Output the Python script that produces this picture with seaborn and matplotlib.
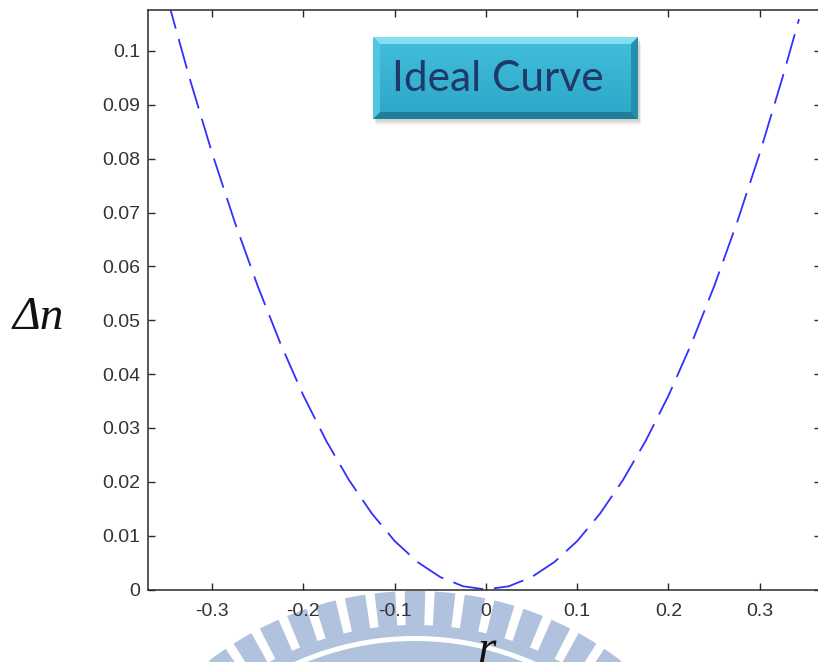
import numpy as np
import pandas as pd
import matplotlib
matplotlib.use("Agg")
import matplotlib.pyplot as plt
import matplotlib.transforms as mtransforms
from matplotlib.patches import Polygon, Rectangle
import seaborn as sns

# ---- data ----
r_vals = [-0.350, -0.325, -0.300, -0.275, -0.250, -0.225, -0.200, -0.175, -0.150,
          -0.125, -0.100, -0.075, -0.050, -0.025, 0.000, 0.025, 0.050, 0.075,
          0.100, 0.125, 0.150, 0.175, 0.200, 0.225, 0.250, 0.275, 0.300, 0.325, 0.343]
dn_vals = [0.1103, 0.0951, 0.0810, 0.0681, 0.0563, 0.0456, 0.0360, 0.0276, 0.0203,
           0.0141, 0.0090, 0.0051, 0.0023, 0.0006, 0.0000, 0.0006, 0.0023, 0.0051,
           0.0090, 0.0141, 0.0203, 0.0276, 0.0360, 0.0456, 0.0563, 0.0681, 0.0810, 0.0951, 0.1059]
x_ticks = [-0.3, -0.2, -0.1, 0, 0.1, 0.2, 0.3]
x_tick_labels = ["-0.3", "-0.2", "-0.1", "0", "0.1", "0.2", "0.3"]
y_ticks = [0, 0.01, 0.02, 0.03, 0.04, 0.05, 0.06, 0.07, 0.08, 0.09, 0.1]
y_tick_labels = ["0", "0.01", "0.02", "0.03", "0.04", "0.05", "0.06", "0.07", "0.08", "0.09", "0.1"]
title_box_text = "Ideal Curve"
x_label = "r"
y_label = "Δn"

df = pd.DataFrame({"r": r_vals, "dn": dn_vals})

sns.set_theme(style="ticks")
plt.rcParams["font.family"] = ["Liberation Sans", "DejaVu Sans"]

W, H = 818, 662
fig = plt.figure(figsize=(W / 100, H / 100), dpi=100)
fig.patch.set_facecolor("white")

# pixel transform: (x, y) measured from top-left corner in pixels
pix = mtransforms.Affine2D().scale(1, -1).translate(0, H).scale(1 / 100) + fig.dpi_scale_trans

# ---- watermark (faint logo arcs) ----
wm_color = "#b1c2df"
cx, cy = 415, 930
def ring_poly(r_in, r_out, a0, a1, n=40):
    a = np.radians(np.linspace(a0, a1, n))
    outer = np.column_stack([cx + r_out * np.sin(a), cy - r_out * np.cos(a)])
    inner = np.column_stack([cx + r_in * np.sin(a[::-1]), cy - r_in * np.cos(a[::-1])])
    return np.vstack([outer, inner])

pitch = 5.1
half = 1.75
for k in range(-10, 11):
    th = k * pitch
    fig.patches.append(Polygon(ring_poly(303, 339, th - half, th + half, 6), closed=True,
                               transform=pix, facecolor=wm_color, edgecolor="none", zorder=-2))
fig.patches.append(Polygon(ring_poly(294, 305, -60, 60, 120), closed=True, transform=pix,
                           facecolor=wm_color, edgecolor="none", zorder=-2))
fig.patches.append(Polygon(ring_poly(200, 289, -60, 60, 120), closed=True, transform=pix,
                           facecolor=wm_color, edgecolor="none", zorder=-2))

# ---- main axes ----
left_px, right_px, top_px, bot_px = 148, 821, 9.5, 589.5
ax = fig.add_axes([left_px / W, (H - bot_px) / H, (right_px - left_px) / W, (bot_px - top_px) / H])
ax.set_facecolor("white")

sns.lineplot(data=df, x="r", y="dn", ax=ax, color="#3030ff", linewidth=1.3,
             sort=False, estimator=None, linestyle=(0, (17, 6)))

x0 = -0.3703
x1 = 0.3671
ax.set_xlim(x0, x1)
ax.set_ylim(0, 0.1077)
ax.set_xticks(x_ticks)
ax.set_xticklabels(x_tick_labels)
ax.set_yticks(y_ticks)
ax.set_yticklabels(y_tick_labels)
ax.set_xlabel("")
ax.set_ylabel("")

for s in ax.spines.values():
    s.set_visible(True)
    s.set_color("#2a2a2a")
    s.set_linewidth(1.1)
ax.tick_params(axis="both", direction="in", length=5, width=1.0, color="#2a2a2a",
               top=True, right=True, labelsize=14, labelcolor="#333333")
ax.tick_params(axis="x", pad=10)
ax.tick_params(axis="y", pad=5.5)

# axis labels
fig.text(38 / W, (H - 318) / H, y_label, fontsize=34, style="italic",
         family=["Liberation Serif", "DejaVu Serif"], ha="center", va="center", color="#111111")
fig.text(486 / W, (H - 651) / H, x_label, fontsize=34, style="italic",
         family=["Liberation Serif", "DejaVu Serif"], ha="center", va="center", color="#111111")

# ---- "Ideal Curve" box ----
bx0, bx1, by0, by1 = 373, 638, 37, 119
# shadow
for i, a in enumerate([0.10, 0.08, 0.06, 0.04]):
    o = 2 + i * 1.5
    fig.patches.append(Rectangle((bx0 + 1 + o * 0.3, by0 + o), bx1 - bx0, by1 - by0, transform=pix,
                                 facecolor="#555555", edgecolor="none", alpha=a, zorder=3))
bax = fig.add_axes([bx0 / W, (H - by1) / H, (bx1 - bx0) / W, (by1 - by0) / H], zorder=4)
grad = np.linspace(0, 1, 64)[:, None]
c_top = np.array([0x44, 0xbe, 0xdc]) / 255
c_bot = np.array([0x2c, 0xa6, 0xc8]) / 255
img = c_top[None, None, :] * (1 - grad[:, :, None]) + c_bot[None, None, :] * grad[:, :, None]
bax.imshow(img, extent=[0, 1, 0, 1], aspect="auto", origin="upper")
bw = 7 / (bx1 - bx0)
bh = 7 / (by1 - by0)
bax.add_patch(Polygon([[0, 1], [1, 1], [1 - bw, 1 - bh], [bw, 1 - bh]], closed=True,
                      facecolor="#86dcf0", edgecolor="none"))
bax.add_patch(Polygon([[0, 0], [1, 0], [1 - bw, bh], [bw, bh]], closed=True,
                      facecolor="#1f7f99", edgecolor="none"))
bax.add_patch(Polygon([[0, 0], [0, 1], [bw, 1 - bh], [bw, bh]], closed=True,
                      facecolor="#52c6e0", edgecolor="none"))
bax.add_patch(Polygon([[1, 0], [1, 1], [1 - bw, 1 - bh], [1 - bw, bh]], closed=True,
                      facecolor="#2590ad", edgecolor="none"))
bax.set_xlim(0, 1)
bax.set_ylim(0, 1)
bax.axis("off")
bax.text(0.472, 0.49, title_box_text, fontsize=30.5, family=["Lato", "DejaVu Sans"],
         color="#1f3a68", ha="center", va="center")

fig.savefig("out.png", dpi=100, facecolor="white")
